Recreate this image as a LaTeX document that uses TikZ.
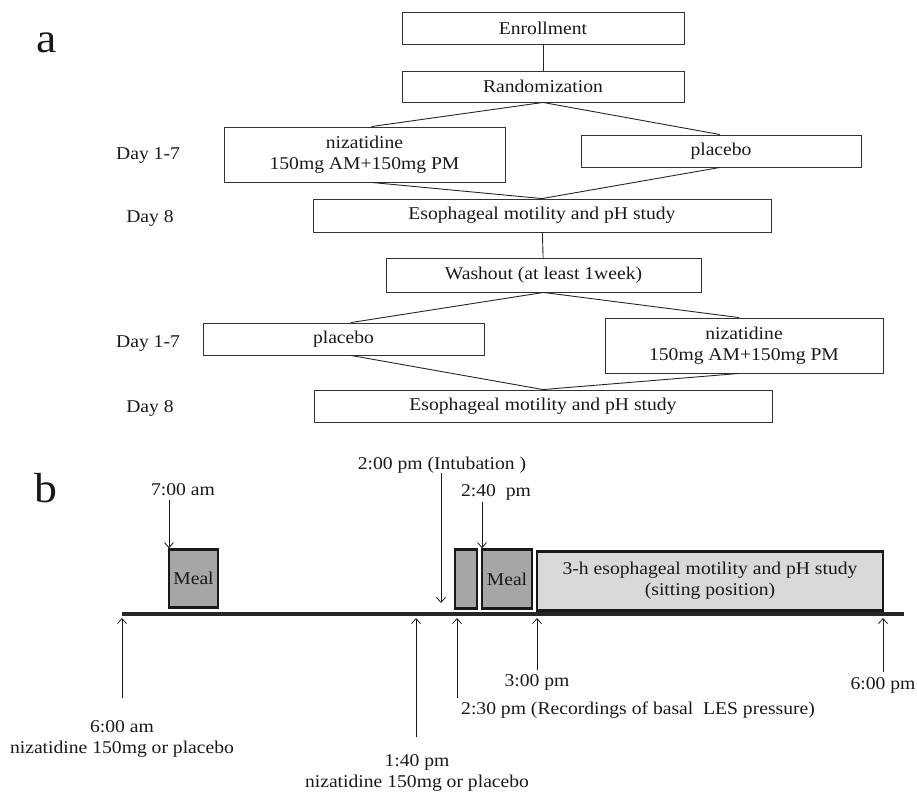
\documentclass[tikz,border=0pt]{standalone}
\usepackage{fontspec}
\setmainfont{Liberation Serif}[FakeStretch=1.09]
\usetikzlibrary{arrows.meta}
\begin{document}
\begin{tikzpicture}[x=1pt,y=-1pt,
  every node/.style={font=\fontsize{18}{21}\selectfont, inner sep=0pt, text=black!90},
  abox/.style={draw=black!80, line width=0.9pt, align=center},
  aline/.style={draw=black!85, line width=0.9pt},
  mealbox/.style={draw=black!90, line width=2.6pt, fill=black!35},
  studybox/.style={draw=black!90, line width=2.6pt, fill=black!15, align=center},
  arr/.style={draw=black!90, line width=0.8pt, -{Straight Barb[length=5pt,width=9pt]}},
  timeline/.style={draw=black!85, line width=4pt},
  biglabel/.style={font=\fontsize{42}{42}\selectfont}]
\useasboundingbox (0,0) rectangle (917,793);

% ---------- panel a ----------
\node[biglabel] (la) at (47,43) {a};
\node[abox, minimum width=282pt, minimum height=32pt] (enroll) at (543,28) {Enrollment};
\node[abox, minimum width=282pt, minimum height=31pt] (rand) at (543,86.5) {Randomization};
\node[abox, minimum width=281pt, minimum height=55pt] (niz1) at (364.5,154.5) {nizatidine\\150mg AM+150mg PM};
\node[abox, minimum width=280pt, minimum height=32pt] (plac1) at (721,151) {placebo};
\node[abox, minimum width=458pt, minimum height=33pt] (eso1) at (542,215.5) {Esophageal motility and pH study};
\node[abox, minimum width=315pt, minimum height=34pt] (wash) at (543.5,275) {Washout (at least 1week)};
\node[abox, minimum width=281pt, minimum height=32pt] (plac2) at (343.5,339) {placebo};
\node[abox, minimum width=278pt, minimum height=55pt] (niz2) at (744,345.5) {nizatidine\\150mg AM+150mg PM};
\node[abox, minimum width=458pt, minimum height=32pt] (eso2) at (543,406) {Esophageal motility and pH study};

\node (d1) at (148,155) {Day 1-7};
\node (d2) at (150,218) {Day 8};
\node (d3) at (148,343) {Day 1-7};
\node (d4) at (150,408) {Day 8};

\draw[aline] (enroll) -- (rand);
\draw[aline] (rand.south) -- ([xshift=7pt]niz1.north);
\draw[aline] (rand.south) -- ([xshift=-1pt]plac1.north);
\draw[aline] ([xshift=7pt]niz1.south) -- (eso1.north);
\draw[aline] ([xshift=-1pt]plac1.south) -- (eso1.north);
\draw[aline] (eso1) -- (wash);
\draw[aline] (wash.south) -- ([xshift=7.5pt]plac2.north);
\draw[aline] (wash.south) -- ([xshift=-5pt]niz2.north);
\draw[aline] ([xshift=7.5pt]plac2.south) -- (eso2.north);
\draw[aline] ([xshift=-5pt]niz2.south) -- (eso2.north);

% ---------- panel b ----------
\node[biglabel] (lb) at (46,488) {b};
\coordinate (tlL) at (122,613.5);
\coordinate (tlR) at (904,613.5);
\coordinate (tlB) at (0,618);
\draw[timeline] (tlL) -- (tlR);

\node[mealbox, minimum width=49pt, minimum height=58pt] (meal1) at (193.5,578.5) {Meal};
\node[mealbox, minimum width=22pt, minimum height=59pt] (small) at (466,579) {};
\node[mealbox, minimum width=50pt, minimum height=59pt] (meal2) at (507,579) {Meal};
\node[studybox, minimum width=346pt, minimum height=59pt] (study) at (710,581) {3-h esophageal motility and pH study\\(sitting position)};

% top labels and arrows
\node (t700) at (183,490) {7:00 am};
\node (t200) at (442,465) {2:00 pm (Intubation )};
\node (t240) at (496,492) {2:40\ \ pm};
\coordinate (a7s) at (169,500);
\coordinate (a2s) at (441,473);
\coordinate (a2e) at (441,603);
\coordinate (a24s) at (482,502);
\draw[arr] (a7s) -- (a7s |- meal1.north);
\draw[arr] (a2s) -- (a2e);
\draw[arr] (a24s) -- (a24s |- meal2.north);

% bottom labels and arrows
\coordinate (u1) at (122,698);
\coordinate (u2) at (416,737);
\coordinate (u3) at (457,698);
\coordinate (u4) at (537,670);
\coordinate (u5) at (883,672);
\draw[arr] (u1) -- (u1 |- tlB);
\draw[arr] (u2) -- (u2 |- tlB);
\draw[arr] (u3) -- (u3 |- tlB);
\draw[arr] (u4) -- (u4 |- tlB);
\draw[arr] (u5) -- (u5 |- tlB);

\node[align=center] (l600am) at (122,739) {6:00 am\\nizatidine 150mg or placebo};
\node[align=center] (l140) at (417,773) {1:40 pm\\nizatidine 150mg or placebo};
\node (l300) at (537,682) {3:00 pm};
\node[anchor=west] (l230) at (461,710) {2:30 pm (Recordings of basal\ \ LES pressure)};
\node (l600pm) at (883,685) {6:00 pm};
\end{tikzpicture}
\end{document}
